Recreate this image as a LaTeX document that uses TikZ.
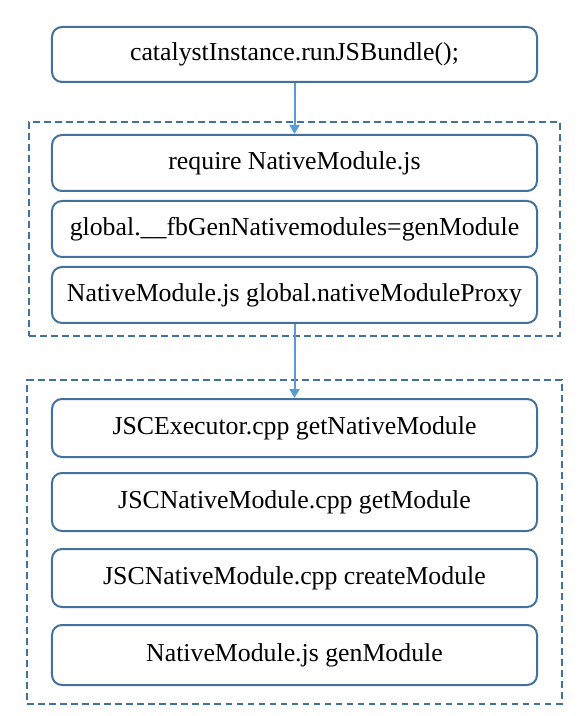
\documentclass[tikz,border=0pt]{standalone}
\usepackage{fontspec}
\setmainfont{Liberation Serif}
\usetikzlibrary{positioning,fit,arrows.meta}
\definecolor{boxblue}{RGB}{65,113,156}
\definecolor{arrowblue}{RGB}{91,155,213}

\begin{document}
\begin{tikzpicture}[roundbox/.style={rectangle, rounded corners=5pt, draw=boxblue, line width=1pt, minimum width=242.5pt, minimum height=28pt, font=\fontsize{12.9}{14}\selectfont},
groupbox/.style={rectangle, draw=boxblue, line width=1pt, dash pattern=on 3.3pt off 2.2pt},
flow/.style={-{Triangle[width=5pt,length=4.5pt]}, draw=arrowblue, line width=1pt}]

\useasboundingbox (-147.25pt,27.25pt) rectangle (144.75pt,-330.75pt);

%Nodes
\node[roundbox, minimum height=27.5pt] (box1) {catalystInstance.runJSBundle();};
\node[roundbox] (box2) [below=25.5pt of box1] {require NativeModule.js};
\node[roundbox] (box3) [below=4pt of box2] {global.\_\_fbGenNativemodules=genModule};
\node[roundbox] (box4) [below=4pt of box3] {NativeModule.js global.nativeModuleProxy};
\node[roundbox, minimum height=29pt] (box5) [below=37pt of box4] {JSCExecutor.cpp getNativeModule};
\node[roundbox, minimum height=29pt] (box6) [below=7pt of box5] {JSCNativeModule.cpp getModule};
\node[roundbox, minimum height=29pt] (box7) [below=8pt of box6] {JSCNativeModule.cpp createModule};
\node[roundbox, minimum height=30pt] (box8) [below=8pt of box7] {NativeModule.js genModule};

%groups
\node[groupbox, fit=(box2)(box4), inner xsep=11pt, inner ysep=6pt] (group1) {};
\node[groupbox, fit=(box5)(box8), inner xsep=11.75pt, inner ysep=9pt] (group2) {};

%line
\draw[flow] (box1.south) -- (box2.north);
\draw[flow] (box4.south) -- (box5.north);

\end{tikzpicture}
\end{document}
